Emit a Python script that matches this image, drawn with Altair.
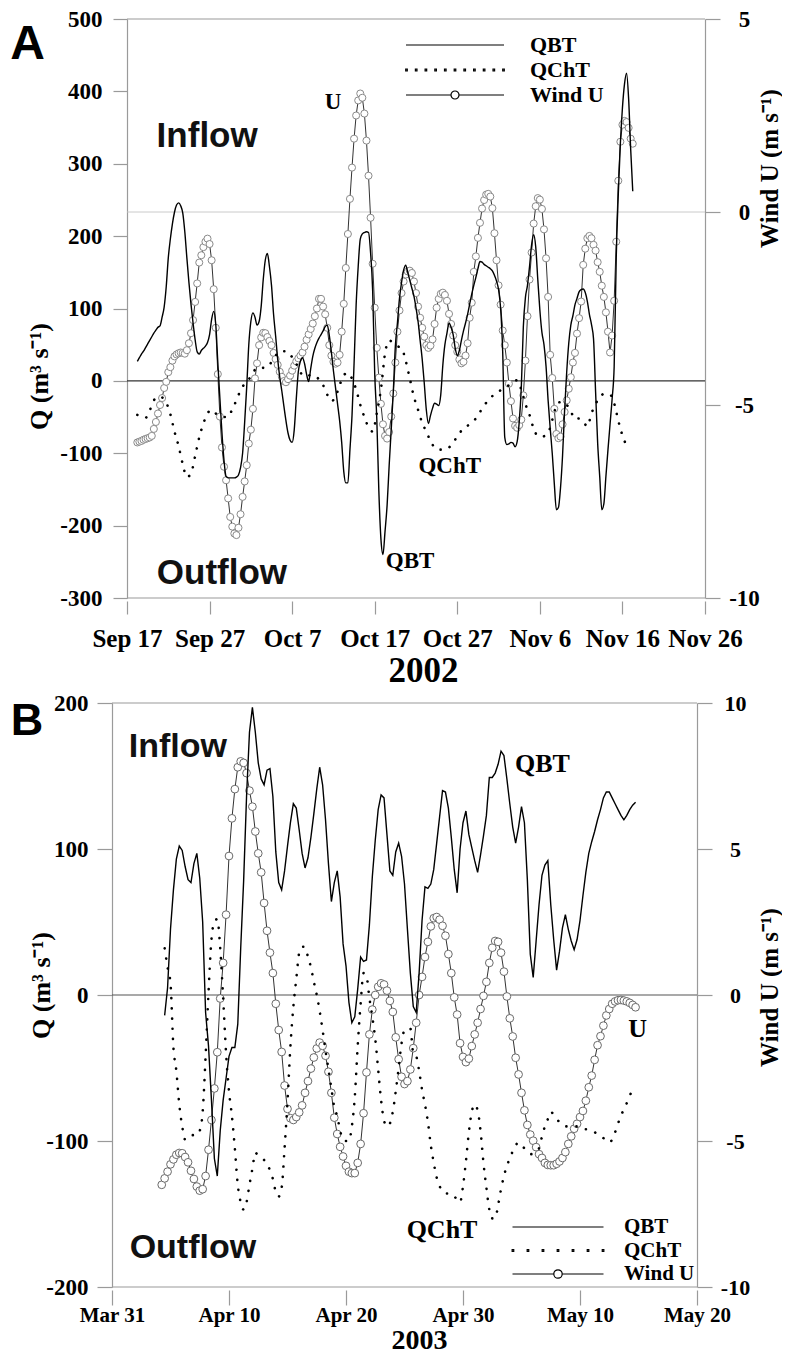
import altair as alt
import pandas as pd

SERIF = "Liberation Serif"
SANS = "Liberation Sans"
GRAY = "#9a9a9a"
SERIES = ["QBT", "QChT", "Wind U"]

# ======================= Panel A : 2002 =======================
A_WIND_START = "2002-09-18 06:00"   # 6-hourly
A_WIND_U = [
    -5.97, -5.95, -5.93, -5.90, -5.88, -5.86, -5.84, -5.80, -5.62, -5.44, -5.22, -5.00,
    -4.82, -4.56, -4.40, -4.15, -4.02, -3.85, -3.74, -3.69, -3.66, -3.64, -3.65, -3.67,
    -3.58, -3.40, -3.14, -2.80, -2.33, -1.85, -1.31, -1.12, -0.91, -0.77, -0.69, -0.83,
    -1.25, -2.00, -3.00, -4.20, -5.30, -6.10, -6.60, -6.95, -7.42, -7.90, -8.15, -8.33,
    -8.37, -8.18, -7.83, -7.38, -6.98, -6.56, -6.00, -5.64, -5.10, -4.31, -3.92, -3.45,
    -3.25, -3.13, -3.14, -3.24, -3.34, -3.45, -3.65, -3.81, -3.96, -4.14, -4.27, -4.38,
    -4.41, -4.33, -4.24, -4.11, -3.98, -3.87, -3.79, -3.72, -3.64, -3.49, -3.31, -3.17,
    -3.03, -2.89, -2.70, -2.50, -2.25, -2.25, -2.45, -2.65, -3.00, -3.45, -3.72, -3.88,
    -3.93, -3.90, -3.70, -3.10, -2.38, -1.45, -0.57, 0.34, 1.15, 1.90, 2.50, 2.89,
    3.07, 2.96, 2.55, 1.85, 0.94, -0.15, -1.34, -2.48, -3.52, -4.29, -4.97, -5.50,
    -5.80, -5.87, -5.70, -5.30, -4.70, -3.90, -3.10, -2.55, -2.10, -1.80, -1.62, -1.54,
    -1.52, -1.58, -1.80, -2.10, -2.45, -2.74, -3.00, -3.23, -3.45, -3.52, -3.46, -3.30,
    -2.90, -2.48, -2.25, -2.12, -2.09, -2.15, -2.30, -2.64, -2.90, -3.20, -3.45, -3.62,
    -3.82, -3.92, -3.88, -3.72, -3.40, -2.74, -2.35, -1.55, -1.15, -0.67, -0.28, 0.09,
    0.31, 0.45, 0.47, 0.40, 0.10, -0.55, -1.25, -1.90, -2.40, -3.07, -3.45, -3.90,
    -4.45, -4.90, -5.35, -5.54, -5.59, -5.52, -5.38, -4.75, -3.85, -2.70, -1.75, -1.05,
    -0.30, 0.15, 0.36, 0.32, 0.08, -0.45, -1.20, -2.20, -3.70, -4.30, -5.10, -5.75,
    -5.86, -5.82, -5.50, -5.18, -4.88, -4.58, -4.28, -3.90, -3.65, -3.15, -2.75, -2.32,
    -1.37, -0.95, -0.68, -0.62, -0.68, -0.85, -1.00, -1.30, -1.55, -1.91, -2.20, -2.60,
    -3.10, -3.64, -3.20, -2.30, -0.77, 0.81, 1.82, 2.26, 2.36, 2.33, 2.18, 1.90,
    1.77,
]
A_QBT_START = "2002-09-18 06:00"    # 6-hourly
A_QBT = [
    27, 32, 37, 41, 46, 51, 56, 61, 66, 70, 74, 76,
    88, 102, 130, 170, 196, 217, 233, 243, 246, 242, 232, 206,
    170, 136, 106, 80, 57, 40, 37, 42, 45, 48, 53, 64,
    85, 96, 78, 25, -24, -72, -110, -132, -134, -134, -134, -134,
    -133, -130, -120, -100, -57, -8, 50, 82, 94, 88, 77, 82,
    103, 140, 167, 176, 158, 132, 92, 62, 30, 5, -14, -35,
    -55, -72, -82, -85, -68, -25, 13, 27, 32, 24, 9, -1,
    17, 34, 45, 53, 59, 64, 69, 75, 77, 63, 40, 14,
    -9, -32, -55, -85, -125, -141, -141, -95, -48, 24, 105, 158,
    196, 203, 205, 206, 205, 177, 125, 10, -52, -152, -218, -240,
    -208, -172, -117, -67, -15, 48, 80, 114, 136, 153, 160, 150,
    139, 128, 117, 101, 82, 56, 30, -3, -40, -59, -48, -38,
    -31, -32, -34, -19, 22, 50, 66, 80, 74, 64, 45, 35,
    42, 56, 69, 80, 92, 106, 120, 132, 143, 155, 165, 164,
    161, 159, 157, 155, 152, 146, 138, 126, 100, 40, -78, -88,
    -87, -85, -86, -91, -84, -57, -10, 75, 115, 132, 158, 188,
    202, 185, 140, 98, 67, 50, 20, -27, -65, -100, -142, -178,
    -175, -148, -103, -40, 12, 52, 77, 90, 105, 114, 123, 126,
    127, 122, 110, 92, 78, 58, -15, -86, -132, -178, -170, -132,
    -95, -60, -25, 20, 170, 258, 328, 377, 410, 425, 390, 320,
    262,
]
A_QCHT_START = "2002-09-18 06:00"   # 12-hourly
A_QCHT = [
    -47, -49, -51, -41, -27, -22, -23, -30, -46, -70,
    -90, -115, -133, -128, -104, -78, -59, -45, -40, -45,
    -48, -50, -50, -39, -27, -13, -4, 2, 11, 18,
    18, 18, 22, 31, 38, 41, 41, 36, 29, 18,
    8, 6, 8, 7, 2, -6, -19, -28, -22, -6,
    8, 11, 3, -12, -33, -50, -64, -70, -45, -12,
    38, 56, 52, 48, 45, 28, 3, -22, -40, -58,
    -70, -83, -92, -95, -95, -94, -89, -81, -73, -65,
    -62, -57, -52, -43, -34, -27, -21, -16, -13, -10,
    -6, -2, 1, -12, -32, -47, -66, -76, -77, -75,
    -65, -43, -30, -29, -33, -42, -53, -52, -56, -63,
    -45, -32, -23, -18, -18, -22, -43, -66, -83, -96,
]
A_X_TICKS = [(2002, 9, 17), (2002, 9, 27), (2002, 10, 7), (2002, 10, 17),
             (2002, 10, 27), (2002, 11, 6), (2002, 11, 16), (2002, 11, 26)]
A_Q_TICKS = [-300, -200, -100, 0, 100, 200, 300, 400, 500]
A_U_TICKS = [-10, -5, 0, 5]
A_REGION_LABELS = ["Inflow", "Outflow"]
A_REGION_T = ["2002-09-26 17:00", "2002-09-28 12:00"]
A_REGION_Q = [338, -265]
A_CURVE_LABELS = ["U", "QChT", "QBT"]
A_CURVE_T = ["2002-10-11 23:00", "2002-10-26 02:00", "2002-10-21 07:00"]
A_CURVE_Q = [385, -117, -249]

# ======================= Panel B : 2003 =======================
B_WIND_START = "2003-04-04 06:00"   # 6-hourly
B_WIND_U = [
    -6.50, -6.28, -6.05, -5.80, -5.63, -5.47, -5.41, -5.42, -5.55, -5.73, -6.02, -6.30,
    -6.56, -6.70, -6.65, -6.20, -5.30, -4.28, -3.20, -1.96, -0.12, 1.10, 2.75, 4.76,
    6.05, 7.05, 7.80, 8.00, 7.95, 7.60, 7.00, 6.45, 5.60, 4.85, 4.20, 3.15,
    2.20, 1.45, 0.75, -0.30, -1.20, -1.95, -3.10, -3.90, -4.22, -4.28, -4.18, -4.02,
    -3.78, -3.35, -2.95, -2.52, -2.14, -1.83, -1.63, -1.74, -2.08, -2.63, -3.35, -4.20,
    -4.76, -5.20, -5.53, -5.85, -6.05, -6.10, -6.10, -5.75, -5.10, -4.05, -2.65, -1.35,
    -0.50, 0.00, 0.28, 0.40, 0.36, 0.15, -0.20, -0.58, -1.45, -2.20, -2.80, -3.05,
    -2.95, -2.55, -1.82, -0.95, 0.00, 0.62, 1.30, 1.82, 2.35, 2.63, 2.67, 2.58,
    2.37, 2.03, 1.40, 0.75, -0.08, -0.67, -1.65, -2.12, -2.30, -2.18, -1.75, -1.35,
    -0.95, -0.48, -0.03, 0.45, 1.10, 1.62, 1.85, 1.82, 1.45, 0.80, -0.05, -0.80,
    -1.42, -2.15, -2.72, -3.35, -3.95, -4.45, -4.78, -4.99, -5.21, -5.45, -5.58, -5.75,
    -5.82, -5.83, -5.83, -5.78, -5.70, -5.58, -5.38, -5.10, -4.84, -4.58, -4.41, -4.18,
    -3.97, -3.62, -3.16, -2.76, -2.22, -1.72, -1.41, -1.05, -0.70, -0.48, -0.30, -0.22,
    -0.18, -0.17, -0.19, -0.22, -0.27, -0.34, -0.42,
]
B_QBT_START = "2003-04-04 12:00"    # 6-hourly
B_QBT = [
    -14, 5, 45, 72, 93, 102, 99, 88, 79, 77, 90, 97,
    80, 50, -12, -35, -72, -112, -124, -93, -72, -57, -42, -36,
    -36, -20, 32, 78, 136, 180, 197, 180, 159, 148, 144, 154,
    155, 136, 98, 77, 72, 85, 102, 118, 131, 128, 113, 97,
    87, 94, 108, 124, 141, 156, 144, 120, 90, 64, 77, 85,
    67, 35, 20, -5, -19, -15, 4, 26, 23, 24, 48, 81,
    106, 127, 137, 135, 110, 85, 82, 98, 104, 95, 76, 45,
    15, -8, -12, 15, 51, 74, 73, 76, 86, 104, 122, 140,
    139, 128, 108, 86, 70, 100, 118, 126, 110, 101, 92, 84,
    96, 109, 123, 149, 149, 152, 158, 167, 164, 148, 131, 115,
    104, 115, 129, 118, 79, 28, 12, 37, 62, 82, 89, 92,
    62, 38, 17, 30, 46, 55, 45, 37, 31, 38, 51, 68,
    84, 97, 105, 112, 120, 127, 135, 139, 139, 135, 131, 127,
    123, 120, 123, 127, 130, 132,
]
B_QCHT_START = "2003-04-04 12:00"   # 6-hourly
B_QCHT = [
    32, 19, 8, -36, -52, -75, -90, -99, -98, -96, -96, -96,
    -93, -80, -42, 2, 38, 50, 52, 32, -2, -40, -66, -83,
    -105, -130, -142, -147, -142, -130, -119, -108, -110, -111, -113, -116,
    -120, -126, -135, -138, -132, -105, -73, -35, -8, 11, 29, 33,
    33, 26, 19, 9, 0, -11, -24, -38, -51, -64, -77, -83,
    -93, -99, -100, -100, -90, -70, -35, -6, 15, 13, -2, -15,
    -30, -51, -72, -86, -90, -88, -80, -66, -50, -33, -24, -23,
    -23, -40, -42, -52, -65, -75, -87, -103, -115, -125, -131, -134,
    -136, -136, -136, -138, -140, -142, -131, -114, -94, -80, -75, -79,
    -93, -115, -132, -147, -153, -153, -144, -133, -124, -117, -112, -107,
    -103, -101, -103, -105, -107, -109, -109, -107, -105, -97, -90, -85,
    -80, -82, -85, -87, -89, -90, -90, -90, -90, -90, -91, -91,
    -92, -92, -93, -94, -95, -96, -98, -100, -101, -99, -94, -88,
    -83, -78, -74, -69, -65,
]
B_X_TICKS = [(2003, 3, 31), (2003, 4, 10), (2003, 4, 20), (2003, 4, 30),
             (2003, 5, 10), (2003, 5, 20)]
B_Q_TICKS = [-200, -100, 0, 100, 200]
B_U_TICKS = [-10, -5, 0, 5, 10]
B_REGION_LABELS = ["Inflow", "Outflow"]
B_REGION_T = ["2003-04-05 15:00", "2003-04-06 22:00"]
B_REGION_Q = [170, -173]
B_CURVE_LABELS = ["QBT", "QChT", "U"]
B_CURVE_T = ["2003-05-06 19:00", "2003-04-28 05:00", "2003-05-14 22:00"]
B_CURVE_Q = [158, -161, -23]


def dt(y, m, d):
    return alt.DateTime(year=y, month=m, date=d)


def legend_paths(half, r, ndots):
    line = f"M{-half},0L{half},0"
    dh = half * 0.99
    step = 2 * dh / (ndots - 1)
    s = 0.08
    dots = "".join(
        f"M{-dh + i * step - s:.3f},{-s}h{2 * s}v{2 * s}h{-2 * s}Z" for i in range(ndots)
    )
    wind = (f"M{-half},0L{-r},0M{r},0L{half},0"
            f"M{r},0A{r},{r} 0 1,1 {-r},0A{r},{r} 0 1,1 {r},0")
    return [line, dots, wind]


def make_panel(c):
    W, H = c["width"], c["height"]
    xs = alt.Scale(domain=[dt(*c["xdom"][0]), dt(*c["xdom"][1])], range=[c["xoff"], W])
    qs = alt.Scale(domain=c["qdom"], nice=False, zero=False)
    us = alt.Scale(domain=c["udom"], nice=False, zero=False)

    x_axis = alt.Axis(
        values=[dt(*v) for v in c["xticks"]], format="%b %-d", title=c["year"],
        labelFont=SERIF, labelFontSize=c["xlab_size"], labelFontWeight="bold",
        labelColor="black", labelBaseline="middle", labelPadding=c["xlab_pad"],
        labelFlush=False, labelOverlap=False, domain=False, offset=3,
        tickColor=GRAY, tickSize=c["xtick"], tickWidth=1.2, grid=False,
        titleFont=SERIF, titleFontSize=c["year_size"], titleFontWeight="bold",
        titleColor="black", titleX=c["year_x"], titleY=c["year_y"],
        titleBaseline="middle", titleAlign="center")
    # every layer uses the same x axis definition so that the shared axis merges cleanly
    tx = alt.X("t:T", scale=xs, axis=x_axis)
    rx = alt.X("t0:T", scale=xs, axis=x_axis)

    q_axis = alt.Axis(
        orient="left", values=c["qticks"], labelExpr="'' + datum.value",
        title="Q (m³ s⁻¹)", offset=-c["xoff"], domainColor=GRAY, domainWidth=1.2,
        tickColor=GRAY, tickSize=c["ytick"], tickWidth=1.2, grid=False,
        labelFont=SERIF, labelFontSize=c["ylab_size"], labelFontWeight="bold",
        labelColor="black", labelPadding=c["ylab_pad"], labelFlush=False,
        titleFont=SERIF, titleFontSize=26, titleFontWeight="bold", titleColor="black",
        titleAngle=270, titleX=c["qtitle_x"], titleY=c["qtitle_y"],
        titleBaseline="middle", titleAlign="center")
    u_axis = alt.Axis(
        orient="right", values=c["uticks"], labelExpr="'' + datum.value",
        title="Wind U (m s⁻¹)", domainColor=GRAY, domainWidth=1.2,
        tickColor=GRAY, tickSize=c["utick"], tickWidth=1.2, grid=False,
        labelFont=SERIF, labelFontSize=c["ulab_size"], labelFontWeight="bold",
        labelColor="black", labelPadding=c["ulab_pad"], labelAlign="center",
        labelFlush=False,
        titleFont=SERIF, titleFontSize=25, titleFontWeight="bold", titleColor="black",
        titleAngle=270, titleX=c["utitle_x"], titleY=c["utitle_y"],
        titleBaseline="middle", titleAlign="center")

    wind = pd.DataFrame({"t": pd.date_range(c["wind_start"], periods=len(c["wind"]), freq="6h"),
                         "v": c["wind"]})
    qbt = pd.DataFrame({"t": pd.date_range(c["qbt_start"], periods=len(c["qbt"]), freq="6h"),
                        "v": c["qbt"]})
    qcht = pd.DataFrame({"t": pd.date_range(c["qcht_start"], periods=len(c["qcht"]),
                                            freq=c["qcht_freq"]),
                         "v": c["qcht"]})

    x0 = pd.Timestamp(*c["xdom"][0])
    x1 = pd.Timestamp(*c["xdom"][1])
    frame = pd.DataFrame({"t0": [x0, x0], "t1": [x1, x1], "v": [c["qdom"][1], c["qdom"][0]]})
    zero = pd.DataFrame({"t0": [x0], "t1": [x1], "v": [0]})

    layers = [
        alt.Chart(frame).mark_rule(color=GRAY, strokeWidth=1.2).encode(
            x=rx, x2="t1:T", y=alt.Y("v:Q", scale=qs, axis=None)),
    ]
    if c["u_zero"]:
        layers.append(alt.Chart(zero).mark_rule(color="#c4c4c4", strokeWidth=0.9).encode(
            x=rx, x2="t1:T", y=alt.Y("v:Q", scale=us, axis=None)))
    layers.append(alt.Chart(zero).mark_rule(color=c["zero_color"], strokeWidth=1.1).encode(
        x=rx, x2="t1:T", y=alt.Y("v:Q", scale=qs, axis=None)))

    layers.append(alt.Chart(wind).mark_line(color="#333333", strokeWidth=1).encode(
        x=tx, y=alt.Y("v:Q", scale=us, axis=u_axis)))
    layers.append(alt.Chart(wind).mark_point(
        shape="circle", filled=True, fill="white", stroke=c["circle_color"],
        strokeWidth=1, size=c["circle_size"], opacity=1).encode(
        x=tx, y=alt.Y("v:Q", scale=us, axis=None)))
    layers.append(alt.Chart(qbt).mark_line(
        color="black", strokeWidth=1.4, interpolate=c["qbt_interp"]).encode(
        x=tx, y=alt.Y("v:Q", scale=qs, axis=q_axis)))
    layers.append(alt.Chart(qcht).mark_line(
        color="black", strokeWidth=2.6, strokeCap="round", strokeDash=[0.1, c["dot_gap"]],
        interpolate=c["qcht_interp"]).encode(
        x=tx, y=alt.Y("v:Q", scale=qs, axis=None)))

    regions = pd.DataFrame({"t": pd.to_datetime(c["region_t"]), "v": c["region_q"],
                            "label": c["region_labels"]})
    layers.append(alt.Chart(regions).mark_text(
        font=SANS, fontWeight="bold", fontSize=c["region_size"], color="#111111",
        align="center", baseline="middle").encode(
        x=tx, y=alt.Y("v:Q", scale=qs, axis=None), text="label:N"))
    curves = pd.DataFrame({"t": pd.to_datetime(c["curve_t"]), "v": c["curve_q"],
                           "label": c["curve_labels"]})
    layers.append(alt.Chart(curves).mark_text(
        font=SERIF, fontWeight="bold", fontSize=c["curve_size"], color="black",
        align="center", baseline="middle").encode(
        x=tx, y=alt.Y("v:Q", scale=qs, axis=None), text="label:N"))

    layers.append(alt.Chart(pd.DataFrame({"label": [c["letter"]]})).mark_text(
        font=SANS, fontWeight="bold", fontSize=c["letter_size"], color="black",
        align="center", baseline="middle").encode(
        x=alt.value(c["letter_x"]), y=alt.value(c["letter_y"]), text="label:N"))

    legend = alt.Legend(
        title=None, orient="none", legendX=c["leg_x"], legendY=c["leg_y"], padding=0,
        symbolSize=400, symbolStrokeWidth=1.2, symbolStrokeColor="black", symbolOpacity=1,
        labelFont=SERIF, labelFontSize=c["leg_size"], labelFontWeight="bold",
        labelColor="black", labelOffset=c["leg_label_offset"], rowPadding=c["leg_row_pad"])
    layers.append(alt.Chart(pd.DataFrame({"series": SERIES})).mark_point(
        filled=False, color="black", opacity=0).encode(
        shape=alt.Shape("series:N",
                        scale=alt.Scale(domain=SERIES, range=legend_paths(*c["leg_geom"])),
                        legend=legend)))

    return alt.layer(*layers).resolve_scale(y="independent").properties(width=W, height=H)


PANEL_A = dict(
    letter="A", year="2002", width=593, height=579, xoff=15,
    xdom=((2002, 9, 17), (2002, 11, 26)), qdom=[-300, 500], udom=[-10, 5],
    xticks=A_X_TICKS, qticks=A_Q_TICKS, uticks=A_U_TICKS,
    xlab_size=25, xlab_pad=24, xtick=13,
    ylab_size=23, ylab_pad=11, ytick=14,
    ulab_size=23, ulab_pad=24, utick=15,
    year_size=35, year_x=311, year_y=69,
    qtitle_x=-88, qtitle_y=357, utitle_x=64, utitle_y=149,
    wind_start=A_WIND_START, wind=A_WIND_U, qbt_start=A_QBT_START, qbt=A_QBT,
    qcht_start=A_QCHT_START, qcht=A_QCHT, qcht_freq="12h",
    qbt_interp="monotone", qcht_interp="monotone", dot_gap=9.5,
    u_zero=True, zero_color="#333333", circle_color="#8a8a8a", circle_size=50,
    region_t=A_REGION_T, region_q=A_REGION_Q, region_labels=A_REGION_LABELS, region_size=35,
    curve_t=A_CURVE_T, curve_q=A_CURVE_Q, curve_labels=A_CURVE_LABELS, curve_size=23,
    letter_size=48, letter_x=-84.5, letter_y=26,
    leg_x=332, leg_y=15, leg_size=22, leg_label_offset=64, leg_row_pad=3,
    leg_geom=(4.9, 0.4, 11),
)

PANEL_B = dict(
    letter="B", year="2003", width=585, height=584, xoff=0,
    xdom=((2003, 3, 31), (2003, 5, 20)), qdom=[-200, 200], udom=[-10, 10],
    xticks=B_X_TICKS, qticks=B_Q_TICKS, uticks=B_U_TICKS,
    xlab_size=21, xlab_pad=10, xtick=15,
    ylab_size=23, ylab_pad=9, ytick=15,
    ulab_size=22, ulab_pad=23, utick=15,
    year_size=28, year_x=307, year_y=50,
    qtitle_x=-71, qtitle_y=282, utitle_x=72, utitle_y=284,
    wind_start=B_WIND_START, wind=B_WIND_U, qbt_start=B_QBT_START, qbt=B_QBT,
    qcht_start=B_QCHT_START, qcht=B_QCHT, qcht_freq="6h",
    qbt_interp="linear", qcht_interp="monotone", dot_gap=10,
    u_zero=False, zero_color="#555555", circle_color="#6a6a6a", circle_size=60,
    region_t=B_REGION_T, region_q=B_REGION_Q, region_labels=B_REGION_LABELS, region_size=34,
    curve_t=B_CURVE_T, curve_q=B_CURVE_Q, curve_labels=B_CURVE_LABELS, curve_size=26,
    letter_size=45, letter_x=-85, letter_y=18,
    leg_x=435, leg_y=513, leg_size=21, leg_label_offset=55, leg_row_pad=2.5,
    leg_geom=(4.55, 0.42, 7),
)

chart = (
    alt.vconcat(make_panel(PANEL_A), make_panel(PANEL_B), spacing=4)
    .resolve_scale(x="independent", y="independent", shape="independent")
    .properties(padding={"left": 2, "top": 0, "right": 0, "bottom": 0})
    .configure_view(strokeWidth=0)
)

chart.save("out.html", embed_options={"renderer": "svg", "actions": False})
